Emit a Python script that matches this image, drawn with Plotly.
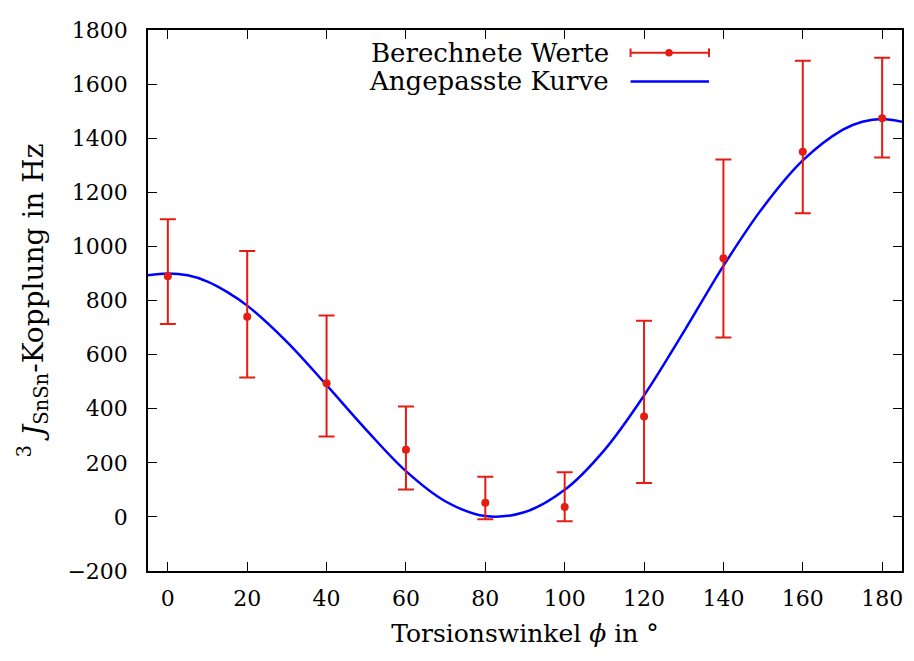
import plotly.graph_objects as go

# ---- data ----
angles = [0, 20, 40, 60, 80, 100, 120, 140, 160, 180]
coupling = [890, 740, 494, 248, 52, 37, 371, 956, 1350, 1474]
upper = [1100, 983, 745, 408, 148, 165, 725, 1321, 1686, 1697]
lower = [713, 515, 297, 101, -9, -16, 125, 663, 1123, 1329]

curve_angles = [-5, 0, 5, 10, 15, 20, 30, 40, 50, 60, 70, 80, 90, 100, 110, 120, 130, 140, 150, 160, 170, 175, 180, 185]
curve_values = [893, 900, 893, 870, 831, 781, 647, 487, 322, 169, 57, 3, 18, 100, 247, 449, 684, 928, 1145, 1318, 1431, 1461, 1471, 1461]

x_ticks = [0, 20, 40, 60, 80, 100, 120, 140, 160, 180]
y_ticks = [-200, 0, 200, 400, 600, 800, 1000, 1200, 1400, 1600, 1800]

RED = "rgb(228,28,18)"
BLUE = "rgb(0,0,255)"
FONT = "DejaVu Serif"

err_plus = [u - v for u, v in zip(upper, coupling)]
err_minus = [v - l for v, l in zip(coupling, lower)]

fig = go.Figure()
fig.add_trace(go.Scatter(
    x=curve_angles, y=curve_values, mode="lines",
    line=dict(color=BLUE, width=2.5, shape="spline", smoothing=1.0),
    name="Angepasste Kurve", showlegend=False,
))
fig.add_trace(go.Scatter(
    x=angles, y=coupling, mode="markers",
    marker=dict(color=RED, size=8),
    error_y=dict(type="data", symmetric=False, array=err_plus, arrayminus=err_minus,
                 color=RED, thickness=2, width=8),
    name="Berechnete Werte", showlegend=False,
))

axis_common = dict(
    ticks="inside", ticklen=9, tickwidth=1, tickcolor="black",
    mirror="allticks", showline=True, linecolor="black", linewidth=1.5,
    showgrid=False, zeroline=False,
    tickfont=dict(family=FONT, size=22, color="black"),
)
fig.update_xaxes(range=[-5, 185], tickvals=x_ticks, ticklabelstandoff=7,
                 title=dict(text="Torsionswinkel <i>ϕ</i> in °", font=dict(family=FONT, size=25, color="black"), standoff=14),
                 **axis_common)
fig.update_yaxes(range=[-200, 1800], tickvals=y_ticks, ticklabelstandoff=14,
                 title=dict(text="<sup>3</sup> <i>J</i><sub>SnSn</sub>-Kopplung in Hz", font=dict(family=FONT, size=28, color="black"), standoff=16),
                 **axis_common)

# legend drawn as annotations/shapes (text left of sample, as in reference)
L_TEXT_X = 0.614
L_X0, L_X1, L_DOT = 0.640, 0.744, 0.691
ROW1, ROW2 = 0.958, 0.905
for txt, row in (("Berechnete Werte", ROW1), ("Angepasste Kurve", ROW2)):
    fig.add_annotation(x=L_TEXT_X, y=row, xref="paper", yref="paper", text=txt,
                       showarrow=False, xanchor="right", yanchor="middle",
                       font=dict(family=FONT, size=26, color="black"))
cap = 0.008
fig.add_shape(type="line", xref="paper", yref="paper", x0=L_X0, x1=L_X1, y0=ROW1, y1=ROW1, line=dict(color=RED, width=2))
fig.add_shape(type="line", xref="paper", yref="paper", x0=L_X0, x1=L_X0, y0=ROW1 - cap, y1=ROW1 + cap, line=dict(color=RED, width=2))
fig.add_shape(type="line", xref="paper", yref="paper", x0=L_X1, x1=L_X1, y0=ROW1 - cap, y1=ROW1 + cap, line=dict(color=RED, width=2))
fig.add_shape(type="circle", xref="paper", yref="paper", x0=L_DOT - 0.005, x1=L_DOT + 0.005,
              y0=ROW1 - 0.007, y1=ROW1 + 0.007, fillcolor=RED, line=dict(color=RED, width=0))
fig.add_shape(type="line", xref="paper", yref="paper", x0=L_X0, x1=L_X1, y0=ROW2, y1=ROW2, line=dict(color=BLUE, width=2.5))

fig.update_layout(
    width=906, height=645,
    margin=dict(l=140, r=10, t=20, b=77),
    paper_bgcolor="white", plot_bgcolor="white",
    font=dict(family=FONT, color="black"),
    showlegend=False,
)
fig.write_html("out.html")
